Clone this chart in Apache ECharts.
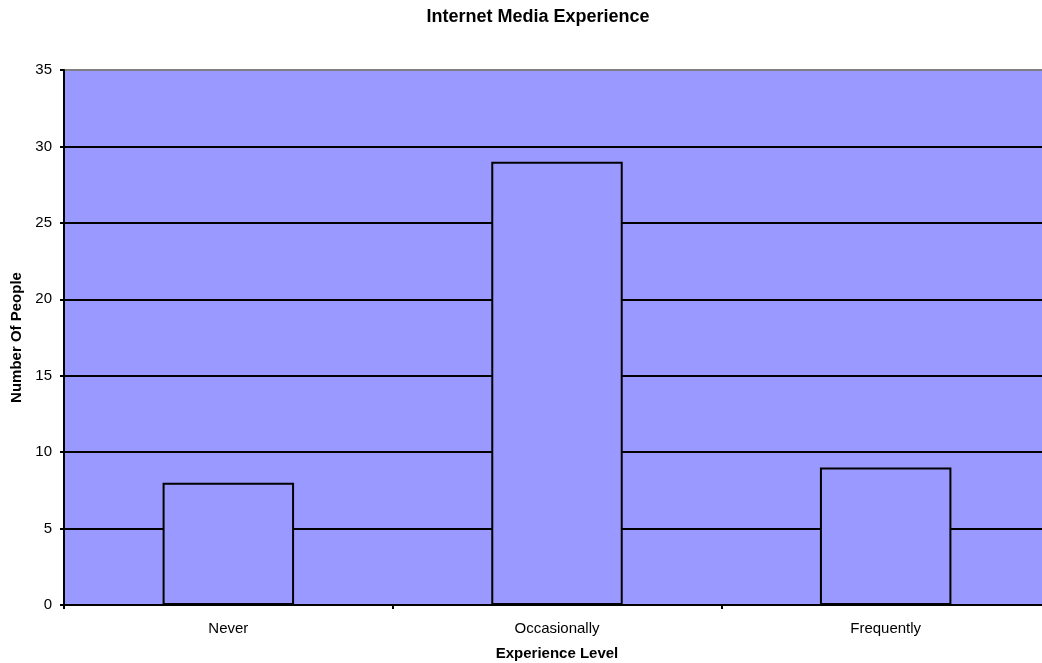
<!DOCTYPE html>
<html>
<head>
<meta charset="utf-8">
<script src="https://cdn.jsdelivr.net/npm/echarts@6/dist/echarts.min.js"></script>
<style>
  html, body { margin: 0; padding: 0; background: #fff; }
  #chart { width: 1042px; height: 663px; }
</style>
</head>
<body>
<div id="chart"></div>
<script>
// Survey responses: how often people use internet media
const categories = ['Never', 'Occasionally', 'Frequently'];
const peopleCounts = [8, 29, 9];
const yTicks = [0, 5, 10, 15, 20, 25, 30, 35];

const fill = '#9999FF';
const fontFamily = 'Liberation Sans, Arial, sans-serif';

// Grid lines are black; the top edge of the plot is drawn in grey
const splitColors = yTicks.map((v, i) => (i === yTicks.length - 1 ? '#808080' : '#000000'));

const chart = echarts.init(document.getElementById('chart'), null, { renderer: 'canvas' });
chart.setOption({
  animation: false,
  backgroundColor: '#ffffff',
  title: {
    text: 'Internet Media Experience',
    left: 533,
    textAlign: 'center',
    top: 3,
    textStyle: { fontFamily, fontSize: 18, fontWeight: 'bold', color: '#000' }
  },
  grid: {
    // the plot runs slightly past the right edge of the canvas
    left: 64, right: -8, top: 70, bottom: 58,
    outerBoundsMode: 'none',
    containLabel: false,
    show: true,
    backgroundColor: fill,
    borderWidth: 0
  },
  xAxis: {
    type: 'category',
    data: categories,
    name: 'Experience Level',
    nameLocation: 'middle',
    nameGap: 41,
    nameTextStyle: { fontFamily, fontSize: 15, fontWeight: 'bold', color: '#000' },
    axisLine: { lineStyle: { color: '#000', width: 2 } },
    axisTick: { show: true, alignWithLabel: false, length: 4, lineStyle: { color: '#000', width: 2 } },
    axisLabel: { fontFamily, fontSize: 15, color: '#000', margin: 16 },
    splitLine: { show: false }
  },
  yAxis: {
    type: 'value',
    min: yTicks[0],
    max: yTicks[yTicks.length - 1],
    interval: yTicks[1] - yTicks[0],
    name: 'Number Of People',
    nameLocation: 'middle',
    nameGap: 40,
    nameRotate: 90,
    nameTextStyle: { fontFamily, fontSize: 15, fontWeight: 'bold', color: '#000' },
    axisLine: { show: true, lineStyle: { color: '#000', width: 2 } },
    axisTick: { show: true, length: 4, lineStyle: { color: '#000', width: 2 } },
    axisLabel: { fontFamily, fontSize: 15, color: '#000', margin: 12 },
    splitLine: { show: true, lineStyle: { color: splitColors, width: 2 } }
  },
  series: [{
    type: 'bar',
    data: peopleCounts,
    barWidth: '40%',
    itemStyle: { color: fill, borderColor: '#000', borderWidth: 2 }
  }]
});
</script>
</body>
</html>
